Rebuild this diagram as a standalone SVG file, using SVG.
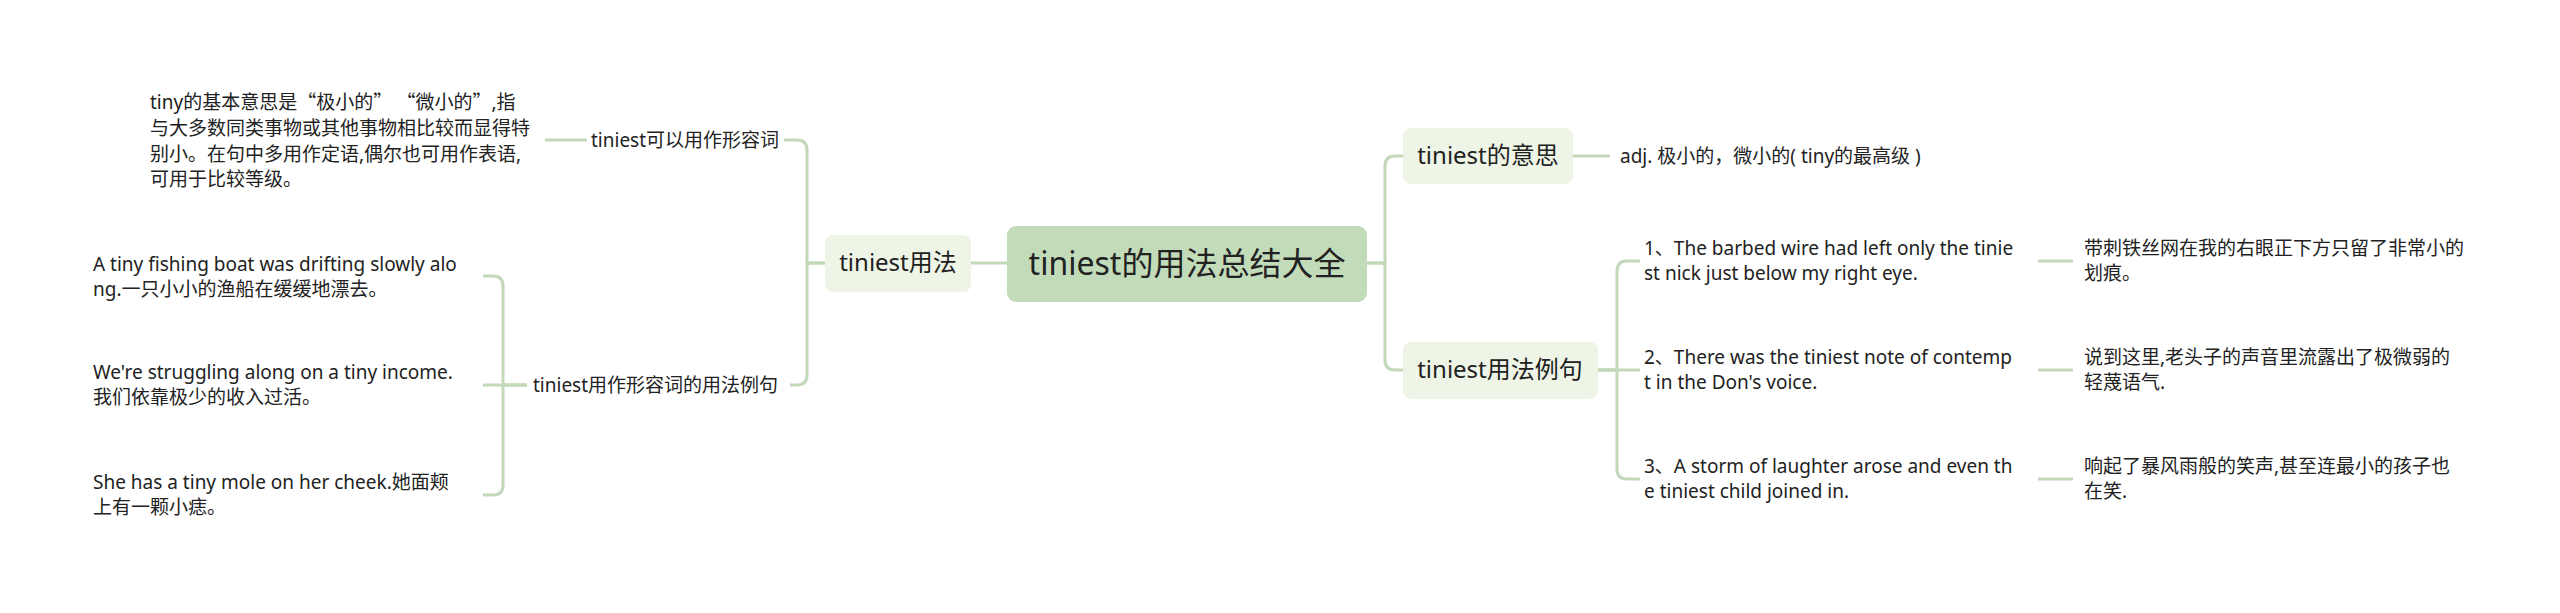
<svg xmlns="http://www.w3.org/2000/svg" width="2560" height="613" viewBox="0 0 2560 613">
<style>
text{font-family:"Noto Sans","Noto Sans CJK SC",sans-serif;fill:#222}
.root{font-size:32px;text-anchor:middle}
.l1{font-size:24px;text-anchor:middle}
.t{font-size:19px}
.cjk{font-family:"Noto Sans CJK SC",sans-serif}
.box0{fill:#c2dbb9}
.box1{fill:#eef5e6}
.c{fill:none;stroke:#c3d9bb;stroke-width:3}
</style>
<rect width="2560" height="613" fill="#ffffff"/>
<g id="connectors">
<path class="c" d="M1007 263H971"/>
<path class="c" d="M825 263H807V150Q807 140 797 140H784"/>
<path class="c" d="M825 263H807V375Q807 385 797 385H790"/>
<path class="c" d="M587 140H545"/>
<path class="c" d="M527 385H503V286Q503 276 493 276H483"/>
<path class="c" d="M527 385H483"/>
<path class="c" d="M527 385H503V485Q503 495 493 495H483"/>
<path class="c" d="M1367 263H1385V166Q1385 156 1395 156H1403"/>
<path class="c" d="M1367 263H1385V360Q1385 370 1395 370H1403"/>
<path class="c" d="M1573 156H1610"/>
<path class="c" d="M1598 370H1617V271Q1617 261 1627 261H1640"/>
<path class="c" d="M1598 370H1640"/>
<path class="c" d="M1598 370H1617V469Q1617 479 1627 479H1640"/>
<path class="c" d="M2038 261H2073"/>
<path class="c" d="M2038 370H2073"/>
<path class="c" d="M2038 479H2073"/>
</g>
<g id="root">
<rect class="box0" x="1007" y="226" width="360" height="76" rx="9"/>
<text class="root" x="1187" y="275">tiniest的用法总结大全</text>
</g>
<g id="usage">
<rect class="box1" x="825" y="235" width="146" height="57" rx="8"/>
<text class="l1" x="898" y="271">tiniest用法</text>
</g>
<g id="meaning">
<rect class="box1" x="1403" y="128" width="170" height="56" rx="8"/>
<text class="l1" x="1488" y="164">tiniest的意思</text>
</g>
<g id="examples">
<rect class="box1" x="1403" y="342" width="195" height="57" rx="8"/>
<text class="l1" x="1500" y="378">tiniest用法例句</text>
</g>
<g id="adj-node">
<text class="t" x="591" y="147">tiniest可以用作形容词</text>
</g>
<g id="adj-desc">
<text class="t" x="150" y="109">tiny的基本意思是<tspan class="cjk">“极小的” “微小的”</tspan>,指</text>
<text class="t" x="150" y="135">与大多数同类事物或其他事物相比较而显得特</text>
<text class="t" x="150" y="161">别小。在句中多用作定语,偶尔也可用作表语,</text>
<text class="t" x="150" y="186">可用于比较等级。</text>
</g>
<g id="adj-examples">
<text class="t" x="533" y="392">tiniest用作形容词的用法例句</text>
</g>
<g id="ex-a">
<text class="t" x="93" y="271">A tiny fishing boat was drifting slowly alo</text>
<text class="t" x="93" y="296">ng.一只小小的渔船在缓缓地漂去。</text>
</g>
<g id="ex-b">
<text class="t" x="93" y="379">We're struggling along on a tiny income.</text>
<text class="t" x="93" y="404">我们依靠极少的收入过活。</text>
</g>
<g id="ex-c">
<text class="t" x="93" y="489">She has a tiny mole on her cheek.她面颊</text>
<text class="t" x="93" y="514">上有一颗小痣。</text>
</g>
<g id="meaning-text">
<text class="t" x="1620" y="163">adj. 极小的，微小的( tiny的最高级 )</text>
</g>
<g id="s1">
<text class="t" x="1644" y="255">1、The barbed wire had left only the tinie</text>
<text class="t" x="1644" y="280">st nick just below my right eye.</text>
</g>
<g id="s2">
<text class="t" x="1644" y="364">2、There was the tiniest note of contemp</text>
<text class="t" x="1644" y="389">t in the Don's voice.</text>
</g>
<g id="s3">
<text class="t" x="1644" y="473">3、A storm of laughter arose and even th</text>
<text class="t" x="1644" y="498">e tiniest child joined in.</text>
</g>
<g id="s1-cn">
<text class="t" x="2084" y="255">带刺铁丝网在我的右眼正下方只留了非常小的</text>
<text class="t" x="2084" y="280">划痕。</text>
</g>
<g id="s2-cn">
<text class="t" x="2084" y="364">说到这里,老头子的声音里流露出了极微弱的</text>
<text class="t" x="2084" y="389">轻蔑语气.</text>
</g>
<g id="s3-cn">
<text class="t" x="2084" y="473">响起了暴风雨般的笑声,甚至连最小的孩子也</text>
<text class="t" x="2084" y="498">在笑.</text>
</g>
</svg>
